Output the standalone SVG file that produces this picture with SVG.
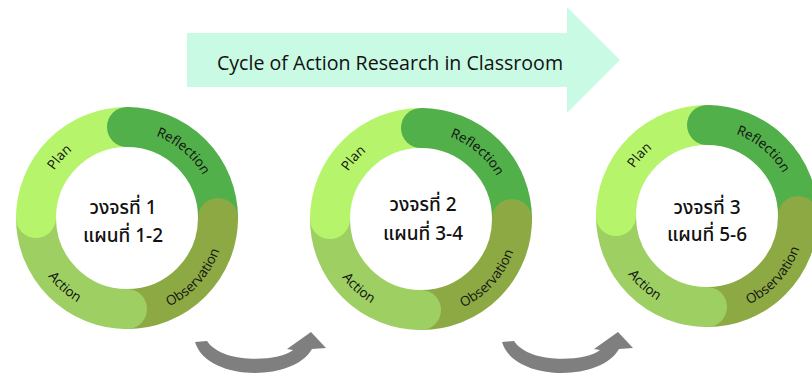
<svg xmlns="http://www.w3.org/2000/svg" xmlns:xlink="http://www.w3.org/1999/xlink" width="812" height="377" viewBox="0 0 812 377">
<style>
.seg{fill:none;stroke-width:40}
.plan{stroke:#B6F46B}
.refl{stroke:#51B04A}
.obs{stroke:#8CA943}
.act{stroke:#9DCF63}
.cplan{fill:#B6F46B}
.crefl{fill:#51B04A}
.cobs{fill:#8CA943}
.cact{fill:#9DCF63}
.lbl{font-family:"Open Sans","Liberation Sans",sans-serif;font-size:13.5px;fill:#111}
.ctr{font-family:"Noto Sans Thai","Leelawadee UI","Tahoma","Noto Sans","DejaVu Sans",sans-serif;font-size:19px;font-weight:500;fill:#111;text-anchor:middle}
.title{font-family:"Open Sans","Liberation Sans",sans-serif;font-size:19.6px;fill:#111;text-anchor:middle}
.garrow{fill:#7F7F7F}
</style>
<defs>
<path id="pPlan" d="M-86.35 -10.6 A87 87 0 0 1 -19.57 -84.77"/>
<path id="pRefl" d="M7.58 -86.67 A87 87 0 0 1 84.04 -22.52"/>
<path id="pObs" d="M13.6 97 A98 98 0 0 0 97.9 3.4"/>
<path id="pAct" d="M-97 13.6 A98 98 0 0 0 -3.4 97.9"/>
<g id="ring">
<path class="seg plan" d="M-91 0 A91 91 0 0 1 0 -91"/>
<path class="seg refl" d="M0 -91 A91 91 0 0 1 91 0"/>
<path class="seg obs" d="M91 0 A91 91 0 0 1 0 91"/>
<path class="seg act" d="M0 91 A91 91 0 0 1 -91 0"/>
<circle class="cplan" cx="-91" cy="0" r="20"/>
<circle class="crefl" cx="0" cy="-91" r="20"/>
<circle class="cobs" cx="91" cy="0" r="20"/>
<circle class="cact" cx="0" cy="91" r="20"/>
<text class="lbl"><textPath xlink:href="#pPlan" href="#pPlan" startOffset="50%" text-anchor="middle">Plan</textPath></text>
<text class="lbl"><textPath xlink:href="#pRefl" href="#pRefl" startOffset="50%" text-anchor="middle">Reflection</textPath></text>
<text class="lbl"><textPath xlink:href="#pObs" href="#pObs" startOffset="50%" text-anchor="middle">Observation</textPath></text>
<text class="lbl"><textPath xlink:href="#pAct" href="#pAct" startOffset="50%" text-anchor="middle">Action</textPath></text>
</g>
</defs>
<g id="title-arrow">
<polygon points="187,33 567,33 567,7 620,60 567,113 567,87 187,87" fill="#C9FAE3"/>
<text class="title" x="390" y="70">Cycle of Action Research in Classroom</text>
</g>
<g id="cycle1" transform="translate(127,218)">
<use href="#ring" xlink:href="#ring"/>
<text class="ctr" x="-4" y="-4">วงจรที่ 1</text>
<text class="ctr" x="-4" y="24">แผนที่ 1-2</text>
</g>
<g id="cycle2" transform="translate(421,219)">
<use href="#ring" xlink:href="#ring"/>
<text class="ctr" x="2" y="-8">วงจรที่ 2</text>
<text class="ctr" x="2" y="21">แผนที่ 3-4</text>
</g>
<g id="cycle3" transform="translate(707,216)">
<use href="#ring" xlink:href="#ring"/>
<text class="ctr" x="0" y="-2">วงจรที่ 3</text>
<text class="ctr" x="0" y="25">แผนที่ 5-6</text>
</g>
<g id="connectors">
<path id="conn1" class="garrow" d="M195,342 C207,382 294,382 312,349 L326,348 L311,332 L287,349 L293,350 C278,362 222,364 207,341 Z"/>
<path id="conn2" class="garrow" transform="translate(307,0)" d="M195,342 C207,382 294,382 312,349 L326,348 L311,332 L287,349 L293,350 C278,362 222,364 207,341 Z"/>
</g>
</svg>
